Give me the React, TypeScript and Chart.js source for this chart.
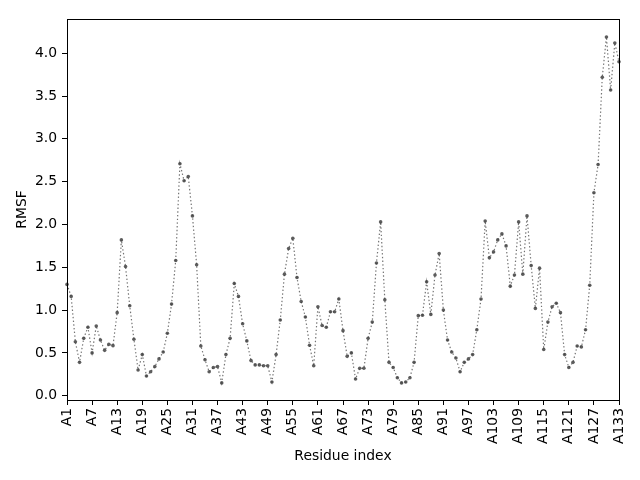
import React, { useRef, useEffect } from 'react';
import { Chart, registerables, ChartConfiguration, Plugin } from 'chart.js';

Chart.register(...registerables);

const residues: string[] = Array.from({ length: 133 }, (_, i) => `A${i + 1}`);

const rmsf: number[] = [
  1.3, 1.16, 0.63, 0.39, 0.67, 0.8, 0.5, 0.815, 0.65, 0.53,
  0.6, 0.585, 0.97, 1.82, 1.51, 1.05, 0.66, 0.3, 0.48, 0.23,
  0.28, 0.34, 0.43, 0.51, 0.73, 1.07, 1.58, 2.71, 2.51, 2.56,
  2.1, 1.53, 0.58, 0.42, 0.28, 0.33, 0.34, 0.15, 0.48, 0.67,
  1.31, 1.16, 0.84, 0.64, 0.41, 0.36, 0.36, 0.35, 0.35, 0.16,
  0.48, 0.885, 1.42, 1.72, 1.84, 1.38, 1.1, 0.92, 0.59, 0.35,
  1.04, 0.82, 0.8, 0.98, 0.98, 1.13, 0.76, 0.46, 0.5, 0.195,
  0.32, 0.32, 0.67, 0.86, 1.55, 2.03, 1.12, 0.39, 0.33, 0.21,
  0.15, 0.16, 0.21, 0.39, 0.935, 0.94, 1.33, 0.95, 1.41, 1.66,
  1.0, 0.65, 0.51, 0.44, 0.28, 0.39, 0.43, 0.48, 0.77, 1.13,
  2.04, 1.61, 1.68, 1.82, 1.89, 1.75, 1.28, 1.41, 2.03, 1.42,
  2.1, 1.52, 1.02, 1.49, 0.54, 0.86, 1.04, 1.08, 0.97, 0.48,
  0.33, 0.39, 0.58, 0.57, 0.77, 1.29, 2.37, 2.7, 3.72, 4.19,
  3.57, 4.12, 3.9,
];

const yTicks: number[] = [0, 0.5, 1, 1.5, 2, 2.5, 3, 3.5, 4];

const FONT = 'DejaVu Sans';

// draws the top and right spines so the plot sits in a full box
const frame: Plugin = {
  id: 'frame',
  afterDraw(chart) {
    const { ctx, chartArea } = chart;
    ctx.save();
    ctx.strokeStyle = '#000';
    ctx.lineWidth = 1;
    ctx.strokeRect(
      Math.round(chartArea.left) + 0.5,
      Math.round(chartArea.top) + 0.5,
      Math.round(chartArea.right - chartArea.left),
      Math.round(chartArea.bottom - chartArea.top)
    );
    ctx.restore();
  },
};

const RmsfChart: React.FC = () => {
  const canvasRef = useRef<HTMLCanvasElement | null>(null);
  const chartRef = useRef<Chart | null>(null);

  useEffect(() => {
    const ctx = canvasRef.current?.getContext('2d');
    if (!ctx) return;
    if (chartRef.current) chartRef.current.destroy();

    chartRef.current = new Chart(ctx, {
      type: 'line',
      data: {
        labels: residues,
        datasets: [
          {
            data: rmsf,
            borderColor: 'rgba(80,80,80,0.8)',
            borderWidth: 1.2,
            borderDash: [1.4, 2.3],
            pointRadius: 1.8,
            pointBorderWidth: 0,
            pointBackgroundColor: 'rgba(65,65,65,0.85)',
            tension: 0,
            clip: false,
          },
        ],
      },
      options: {
        responsive: false,
        animation: false,
        layout: { padding: { left: 0, top: 19, right: 21, bottom: 0 } },
        plugins: {
          legend: { display: false },
          tooltip: { enabled: false },
        },
        scales: {
          x: {
            type: 'category',
            offset: false,
            afterFit: (scale: any) => {
              scale.height = 80;
            },
            border: { display: true, color: '#000', width: 1 },
            grid: {
              display: true,
              drawOnChartArea: false,
              drawTicks: true,
              tickLength: 5,
              color: '#000',
            },
            ticks: {
              autoSkip: false,
              maxRotation: 90,
              minRotation: 90,
              padding: 3,
              color: '#000',
              font: { family: FONT, size: 13.9 },
              callback: (_v: any, i: number) => (i % 6 === 0 ? residues[i] : null),
            },
            title: {
              display: true,
              text: 'Residue index',
              color: '#000',
              font: { family: FONT, size: 13.9 },
              padding: { top: 0, bottom: 15 },
            },
          },
          y: {
            type: 'linear',
            min: -0.05,
            max: 4.4,
            afterFit: (scale: any) => {
              scale.width = 67;
            },
            afterBuildTicks: (scale: any) => {
              scale.ticks = yTicks.map((v) => ({ value: v }));
            },
            border: { display: true, color: '#000', width: 1 },
            grid: {
              display: true,
              drawOnChartArea: false,
              drawTicks: true,
              tickLength: 5,
              color: '#000',
            },
            ticks: {
              padding: 5,
              color: '#000',
              font: { family: FONT, size: 13.9 },
              callback: (v: any) => Number(v).toFixed(1),
            },
            title: {
              display: true,
              text: 'RMSF',
              color: '#000',
              font: { family: FONT, size: 13.9 },
              padding: { top: 14, bottom: 0 },
            },
          },
        },
      },
      plugins: [frame],
    } as ChartConfiguration);

    return () => {
      if (chartRef.current) {
        chartRef.current.destroy();
        chartRef.current = null;
      }
    };
  }, []);

  return <canvas ref={canvasRef} width={640} height={480} />;
};

const App: React.FC = () => (
  <div style={{ position: 'fixed', left: 0, top: 0, width: 640, height: 480, background: '#fff' }}>
    <RmsfChart />
  </div>
);

export default App;
